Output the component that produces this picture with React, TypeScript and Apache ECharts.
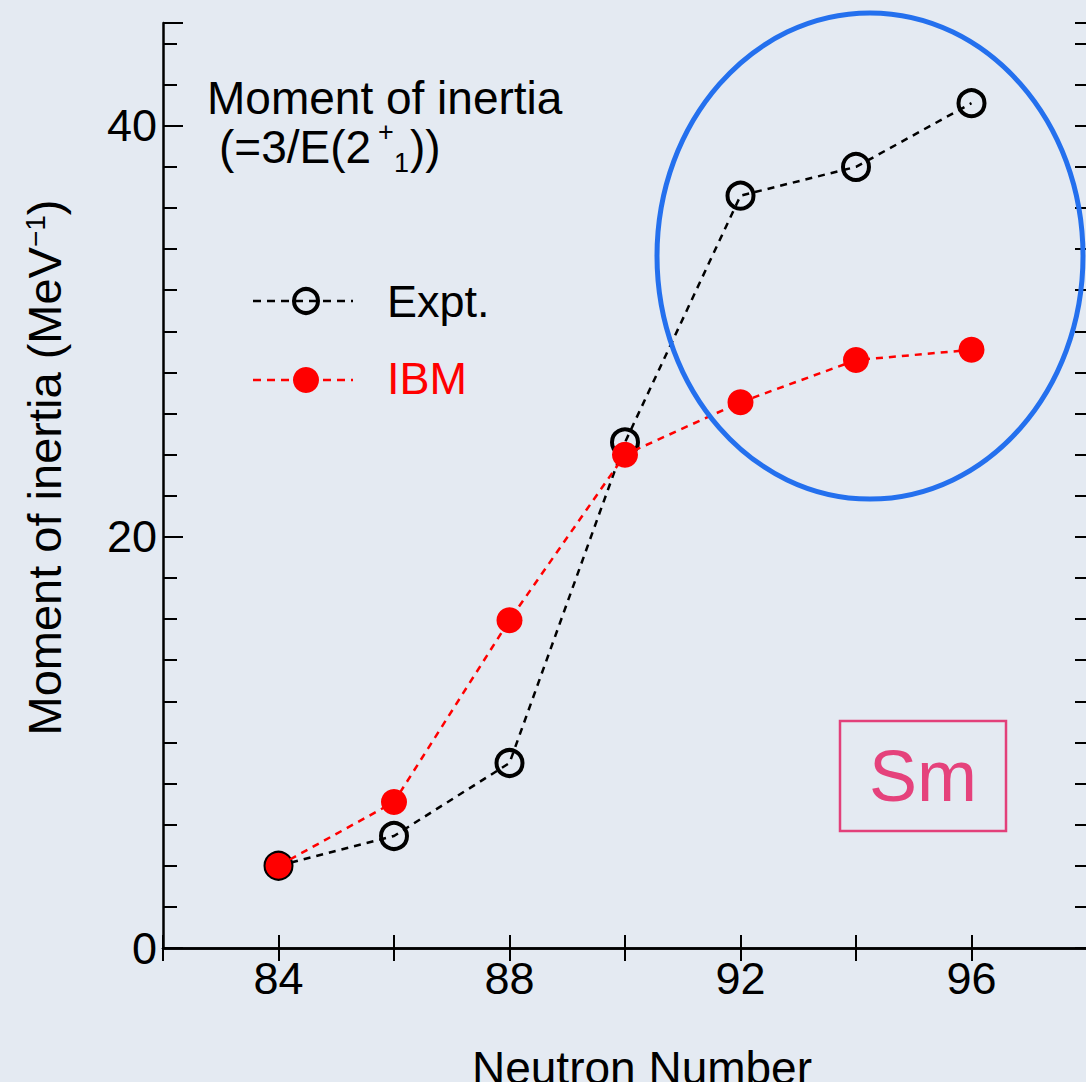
import React, { useEffect, useRef } from "react";
import * as echarts from "echarts";

// Neutron numbers of the Sm isotopes and the moments of inertia (MeV^-1)
const neutronNumbers = [84, 86, 88, 90, 92, 94, 96];
const exptMoment = [4.0, 5.45, 9.0, 24.6, 36.6, 38.0, 41.1];
const ibmMoment = [4.0, 7.1, 15.95, 24.0, 26.55, 28.6, 29.1];

const xLabelValues = [84, 88, 92, 96];
const yLabelValues = [0, 20, 40];

const FONT = "Liberation Sans";
const BG = "#e4eaf2";

export default function App() {
  const ref = useRef<HTMLDivElement>(null);

  useEffect(() => {
    document.body.style.margin = "0";
    document.body.style.background = BG;
    const chart = echarts.init(ref.current!, undefined, { renderer: "svg" });

    const exptData = neutronNumbers.map((n, i) => [n, exptMoment[i]]);
    const ibmData = neutronNumbers.map((n, i) => [n, ibmMoment[i]]);

    const xBase = {
      type: "value" as const,
      min: 82,
      max: 98,
      interval: 2,
      splitLine: { show: false },
    };
    const yBase = {
      type: "value" as const,
      min: 0,
      max: 45,
      splitLine: { show: false },
    };

    chart.setOption({
      animation: false,
      backgroundColor: BG,
      grid: {
        left: 163,
        top: 23,
        width: 924,
        height: 925,
        containLabel: false,
        outerBoundsMode: "none",
      },
      xAxis: [
        {
          ...xBase,
          position: "bottom",
          axisLine: { lineStyle: { color: "#000", width: 2.5 } },
          axisTick: { inside: true, length: 13, lineStyle: { color: "#000", width: 2 } },
          axisLabel: {
            margin: 8,
            color: "#000",
            fontSize: 45,
            fontFamily: FONT,
            formatter: (v: number) => (xLabelValues.includes(v) ? String(v) : ""),
          },
          name: "Neutron Number",
          nameLocation: "middle",
          nameGap: 97,
          nameTextStyle: { color: "#000", fontSize: 46, fontFamily: FONT, padding: [0, 0, 0, 34] },
        },
        {
          ...xBase,
          position: "top",
          axisLine: { lineStyle: { color: "#000", width: 2.5 } },
          axisTick: { inside: true, length: 13, lineStyle: { color: "#000", width: 2 } },
          axisLabel: { show: false },
        },
      ],
      yAxis: [
        {
          ...yBase,
          position: "left",
          interval: 20,
          axisLine: { lineStyle: { color: "#000", width: 2.5 } },
          axisTick: { inside: true, length: 20, lineStyle: { color: "#000", width: 2 } },
          axisLabel: {
            margin: 6,
            color: "#000",
            fontSize: 45,
            fontFamily: FONT,
            formatter: (v: number) => (yLabelValues.includes(v) ? String(v) : ""),
          },
          name: "Moment of inertia (MeV{sup|−1})",
          nameLocation: "middle",
          nameRotate: 90,
          nameGap: 95,
          nameTextStyle: {
            color: "#000",
            fontSize: 47,
            fontFamily: FONT,
            padding: [0, 0, 0, 36],
            rich: {
              sup: { fontSize: 28, fontFamily: FONT, color: "#000", verticalAlign: "top" },
            },
          },
        },
        {
          ...yBase,
          position: "left",
          interval: 2,
          axisLine: { show: false },
          axisTick: { inside: true, length: 14, lineStyle: { color: "#000", width: 2 } },
          axisLabel: { show: false },
        },
        {
          ...yBase,
          position: "right",
          interval: 2,
          axisLine: { lineStyle: { color: "#000", width: 2.5 } },
          axisTick: { inside: true, length: 12, lineStyle: { color: "#000", width: 2 } },
          axisLabel: { show: false },
        },
      ],
      series: [
        {
          name: "Expt.",
          type: "line",
          xAxisIndex: 0,
          yAxisIndex: 0,
          data: exptData,
          symbol: "circle",
          symbolSize: 26,
          itemStyle: { color: "rgba(0,0,0,0)", borderColor: "#000", borderWidth: 4 },
          lineStyle: { color: "#000", width: 2.5, type: [7, 6] },
          z: 3,
        },
        {
          name: "IBM",
          type: "line",
          xAxisIndex: 0,
          yAxisIndex: 0,
          data: ibmData,
          symbol: "circle",
          symbolSize: 26,
          itemStyle: { color: "#ff0000", borderWidth: 0 },
          lineStyle: { color: "#ff0000", width: 2.5, type: [7, 6] },
          z: 4,
        },
      ],
      graphic: [
        // panel title
        {
          type: "text",
          x: 207,
          y: 98,
          style: {
            text: "Moment of inertia",
            fontSize: 46,
            lineHeight: 38,
            fontFamily: FONT,
            fill: "#000",
            align: "left",
            verticalAlign: "middle",
          },
        },
        {
          type: "text",
          x: 219,
          y: 147,
          style: {
            text: "(=3/E(2",
            fontSize: 46,
            lineHeight: 40,
            fontFamily: FONT,
            fill: "#000",
            align: "left",
            verticalAlign: "middle",
          },
        },
        {
          type: "text",
          x: 378,
          y: 132,
          style: {
            text: "+",
            fontSize: 27,
            lineHeight: 14,
            fontFamily: FONT,
            fill: "#000",
            align: "left",
            verticalAlign: "middle",
          },
        },
        {
          type: "text",
          x: 394,
          y: 163,
          style: {
            text: "1",
            fontSize: 27,
            lineHeight: 20,
            fontFamily: FONT,
            fill: "#000",
            align: "left",
            verticalAlign: "middle",
          },
        },
        {
          type: "text",
          x: 410,
          y: 147,
          style: {
            text: "))",
            fontSize: 46,
            lineHeight: 40,
            fontFamily: FONT,
            fill: "#000",
            align: "left",
            verticalAlign: "middle",
          },
        },
        // legend: Expt.
        {
          type: "line",
          shape: { x1: 253, y1: 301, x2: 353, y2: 301 },
          style: { stroke: "#000", lineWidth: 2.5, lineDash: [8, 6] },
        },
        {
          type: "circle",
          shape: { cx: 306, cy: 301, r: 12 },
          style: { stroke: "#000", lineWidth: 4, fill: "none" },
        },
        {
          type: "text",
          x: 387,
          y: 301,
          style: { text: "Expt.", fontSize: 45, fontFamily: FONT, fill: "#000", align: "left", verticalAlign: "middle" },
        },
        // legend: IBM
        {
          type: "line",
          shape: { x1: 253, y1: 380, x2: 353, y2: 380 },
          style: { stroke: "#ff0000", lineWidth: 2.5, lineDash: [8, 6] },
        },
        {
          type: "circle",
          shape: { cx: 306, cy: 380, r: 13 },
          style: { fill: "#ff0000" },
        },
        {
          type: "text",
          x: 387,
          y: 378,
          style: { text: "IBM", fontSize: 45, fontFamily: FONT, fill: "#ff0000", align: "left", verticalAlign: "middle" },
        },
        // element label
        {
          type: "rect",
          shape: { x: 840, y: 721, width: 166, height: 110 },
          style: { stroke: "#e2407a", lineWidth: 2.5, fill: "none" },
        },
        {
          type: "text",
          x: 923,
          y: 776,
          style: { text: "Sm", fontSize: 72, fontFamily: FONT, fill: "#e5427c", align: "center", verticalAlign: "middle" },
        },
        // highlight of the deformed region
        {
          type: "ellipse",
          shape: { cx: 870, cy: 256, rx: 213, ry: 243 },
          style: { stroke: "#2470ee", lineWidth: 5, fill: "none" },
          z: 10,
        },
      ],
    });

    return () => chart.dispose();
  }, []);

  return (
    <div
      ref={ref}
      style={{ position: "fixed", left: 0, top: 0, width: 1086, height: 1082, background: BG }}
    />
  );
}
